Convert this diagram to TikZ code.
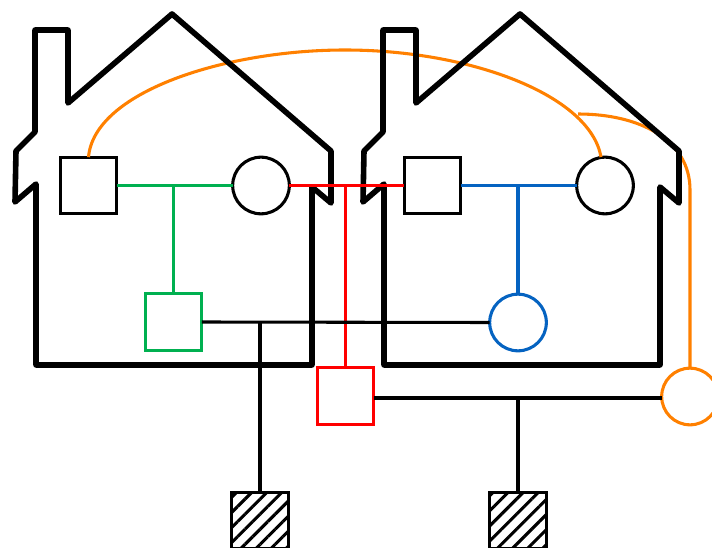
\documentclass[tikz,border=0pt]{standalone}
\usetikzlibrary{patterns.meta}
\definecolor{cgreen}{HTML}{00B050}
\definecolor{cblue}{HTML}{0563C1}
\definecolor{corange}{HTML}{FF8000}
\tikzset{
  x=0.75pt,y=-0.75pt,
  house/.style={line width=4.2pt,line join=round,line cap=round,draw=black},
  link/.style={line width=2.3pt},
  male/.style={draw,rectangle,line width=2.3pt,minimum size=42.5pt,inner sep=0pt,outer sep=0pt},
  female/.style={draw,circle,line width=2.3pt,minimum size=42.5pt,inner sep=0pt,outer sep=0pt},
  child/.style={male,pattern={Lines[angle=45,distance=8pt,line width=2.3pt]}},
}
\begin{document}
\begin{tikzpicture}
\useasboundingbox (0,0) rectangle (712,548);
\clip (0,0) rectangle (712,548);
% people
\node[male] (sqA) at (88.5,185.5) {};
\node[female] (ciA) at (261,185.5) {};
\node[male] (sqB) at (432.5,185.5) {};
\node[female] (ciB) at (605,185.5) {};
\node[male,draw=cgreen] (sqG) at (173.5,322) {};
\node[female,draw=cblue] (ciC) at (518,322.5) {};
\node[male,draw=red] (sqR) at (345.5,396) {};
\node[female,draw=corange] (ciO) at (690,396.5) {};
\node[child] (chA) at (260,520.5) {};
\node[child] (chB) at (518,520.5) {};
% orange links under the houses
\coordinate (oEnd) at (601,157);
\draw[link,corange] (sqA.north) .. controls (94,92) and (225,50) .. (345,50)
  .. controls (470,50) and (590,95) .. (oEnd);
\coordinate (oStart) at (578,114);
\draw[link,corange] (oStart) .. controls (640,114) and (690,140) .. (690,190) -- (ciO.north);
% houses
\draw[house] (36,365) -- (36,184) -- (15,202) -- (16,151) -- (35,132) -- (35,30) -- (68,30) -- (68,103)
  -- (172,14) -- (331,151) -- (331,203) -- (312,187) -- (312,365) -- cycle;
\draw[house] (384,365) -- (384,184) -- (363,202) -- (364,151) -- (383,132) -- (383,30) -- (416,30) -- (416,103)
  -- (520,14) -- (679,151) -- (679,203) -- (660,187) -- (660,365) -- cycle;
% couples and descent
\draw[link,cgreen] (sqA.east) -- (ciA.west);
\draw[link,cgreen] (sqG.north) -- (sqG.north |- sqA.east);
\draw[link,cblue] (sqB.east) -- (ciB.west);
\draw[link,cblue] (ciC.north) -- (ciC.north |- sqB.east);
\draw[link,red] (ciA.east) -- (sqB.west);
\draw[link,red] (sqR.north) -- (sqR.north |- ciA.east);
\draw[link] (sqG.east) -- (ciC.west);
\draw[link] (chA.north) -- (chA.north |- sqG.east);
\coordinate (rEast) at ([yshift=-1.5pt]sqR.east);
\draw[link] (rEast) -- (rEast -| ciO.west);
\draw[link] (chB.north) -- (chB.north |- rEast);
\end{tikzpicture}
\end{document}
